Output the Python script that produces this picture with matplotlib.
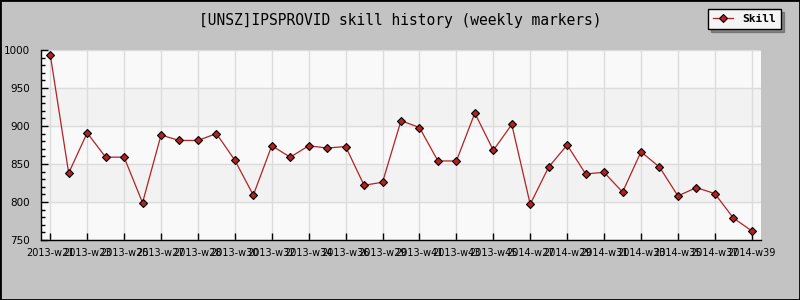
import matplotlib
matplotlib.use("Agg")
import matplotlib.pyplot as plt
from matplotlib.patches import Rectangle

# skill values, one per weekly marker
skill = [994, 838, 891, 859, 859, 799, 888, 881, 881, 890,
         855, 809, 874, 859, 874, 871, 873, 822, 826, 907,
         898, 854, 854, 917, 868, 902, 797, 846, 875, 837,
         839, 813, 866, 846, 808, 819, 811, 779, 762]

# labels shown on every second marker
week_labels = ["2013-w21", "2013-w23", "2013-w25", "2013-w27", "2013-w28",
               "2013-w30", "2013-w32", "2013-w34", "2013-w36", "2013-w29",
               "2013-w41", "2013-w43", "2013-w45", "2014-w27", "2014-w29",
               "2014-w31", "2014-w33", "2014-w35", "2014-w37", "2014-w39"]

title = "[UNSZ]IPSPROVID skill history (weekly markers)"

xs = list(range(len(skill)))
tick_pos = xs[::2]

fig = plt.figure(figsize=(8, 3), dpi=100, facecolor="#c3c3c3")
ax = fig.add_axes([41/800, 60/300, 720/800, 190/300])
ax.set_facecolor("#f9f9f9")

# alternating bands
for lo in (800, 900):
    ax.axhspan(lo, lo + 50, color="#f2f2f2", zorder=0)

ax.plot(xs, skill, color="#b22222", lw=0.9, marker="D", markersize=4.2,
        markerfacecolor="#b22222", markeredgecolor="black", markeredgewidth=0.8,
        label="Skill", zorder=3)

ax.set_xlim(-0.5, 38.5)
ax.set_ylim(750, 1000)
ax.set_yticks([750, 800, 850, 900, 950, 1000])
ax.set_yticks(range(750, 1001, 10), minor=True)
ax.set_xticks(tick_pos)
ax.set_xticklabels(week_labels)

ax.grid(True, color="#dcdcdc", lw=1, zorder=1)
ax.set_axisbelow(True)
for s in ("top", "right"):
    ax.spines[s].set_visible(False)
for s in ("left", "bottom"):
    ax.spines[s].set_color("black")
    ax.spines[s].set_linewidth(1)

ax.tick_params(axis="x", direction="in", length=5, width=1, labelsize=7, pad=6)
ax.tick_params(axis="y", which="major", direction="in", length=5, width=1, labelsize=7.5, pad=8)
ax.tick_params(axis="y", which="minor", direction="in", length=3, width=1)
for t in ax.get_xticklabels() + ax.get_yticklabels():
    t.set_family("DejaVu Sans")

fig.text(0.5, 1 - 20/300, title, ha="center", va="center",
         family="DejaVu Sans Mono", fontsize=10.5)

leg = fig.legend(loc="upper right", bbox_to_anchor=(781/800, 1 - 9/300),
                 borderaxespad=0, frameon=True, fancybox=False, shadow=True,
                 prop={"family": "DejaVu Sans Mono", "weight": "bold", "size": 8},
                 handlelength=1.8, borderpad=0.45)
leg.get_frame().set_edgecolor("black")
leg.get_frame().set_facecolor("#f4f4f4")
leg.get_frame().set_linewidth(1)

# outer border
fig.patches.append(Rectangle((0, 0), 1, 1, transform=fig.transFigure,
                             fill=False, edgecolor="black", lw=2))

fig.savefig("out.png", dpi=100, facecolor=fig.get_facecolor())
